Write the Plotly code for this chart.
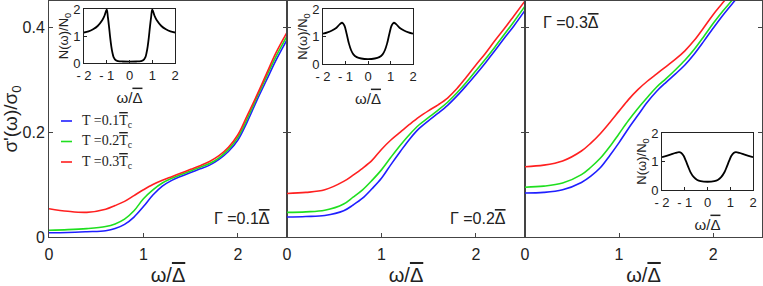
import plotly.graph_objects as go

# ---------------- data ----------------
# main panels: sigma'(omega)/sigma_0 vs omega/Delta
w = [0, 0.2, 0.4, 0.6, 0.7, 0.8, 0.9, 1.0, 1.1, 1.2, 1.3, 1.4, 1.5, 1.6, 1.7,
     1.8, 1.9, 2.0, 2.1, 2.2, 2.3, 2.4, 2.52]

# Gamma = 0.1
g1_t01 = [0.008, 0.0085, 0.010, 0.012, 0.016, 0.024, 0.038, 0.058, 0.080, 0.097, 0.108,
          0.116, 0.123, 0.130, 0.137, 0.148, 0.163, 0.185, 0.220, 0.260, 0.298, 0.336, 0.376]
g1_t02 = [0.013, 0.014, 0.016, 0.020, 0.025, 0.034, 0.050, 0.073, 0.090, 0.103, 0.112,
          0.119, 0.126, 0.133, 0.140, 0.151, 0.167, 0.190, 0.226, 0.266, 0.305, 0.343, 0.383]
g1_t03 = [0.054, 0.049, 0.047, 0.053, 0.060, 0.068, 0.079, 0.090, 0.100, 0.108, 0.115,
          0.122, 0.129, 0.136, 0.144, 0.155, 0.171, 0.195, 0.232, 0.270, 0.310, 0.350, 0.390]

# Gamma = 0.2
g2_t01 = [0.038, 0.039, 0.041, 0.050, 0.061, 0.074, 0.092, 0.112, 0.138, 0.163, 0.187,
          0.207, 0.222, 0.236, 0.251, 0.269, 0.289, 0.310, 0.332, 0.355, 0.379, 0.402, 0.432]
g2_t02 = [0.047, 0.048, 0.051, 0.063, 0.076, 0.090, 0.108, 0.128, 0.152, 0.175, 0.196,
          0.214, 0.228, 0.242, 0.257, 0.275, 0.295, 0.317, 0.339, 0.362, 0.386, 0.410, 0.440]
g2_t03 = [0.083, 0.085, 0.090, 0.106, 0.118, 0.131, 0.146, 0.167, 0.185, 0.200, 0.215,
          0.229, 0.241, 0.252, 0.265, 0.283, 0.305, 0.328, 0.350, 0.374, 0.397, 0.421, 0.450]

# Gamma = 0.3
g3_t01 = [0.084, 0.085, 0.090, 0.104, 0.116, 0.132, 0.155, 0.180, 0.207, 0.232, 0.257,
          0.278, 0.295, 0.311, 0.328, 0.349, 0.373, 0.398, 0.422, 0.444, 0.465, 0.485, 0.510]
g3_t02 = [0.095, 0.097, 0.103, 0.119, 0.133, 0.150, 0.172, 0.197, 0.222, 0.245, 0.266,
          0.286, 0.302, 0.319, 0.337, 0.358, 0.382, 0.407, 0.430, 0.451, 0.472, 0.490, 0.515]
g3_t03 = [0.134, 0.137, 0.145, 0.164, 0.179, 0.197, 0.218, 0.240, 0.262, 0.281, 0.297,
          0.311, 0.325, 0.339, 0.355, 0.375, 0.399, 0.424, 0.446, 0.468, 0.490, 0.510, 0.535]

# insets: density of states N(omega)/N0
dos_w1 = [-2.0, -1.8, -1.6, -1.4, -1.2, -1.1, -1.0, -0.95, -0.9, -0.85, -0.8, -0.75, -0.7,
          -0.6, -0.5, -0.3, 0.0, 0.3, 0.5, 0.6, 0.7, 0.75, 0.8, 0.85, 0.9, 0.95, 1.0,
          1.1, 1.2, 1.4, 1.6, 1.8, 2.0]
dos_n1 = [1.13, 1.17, 1.25, 1.37, 1.58, 1.75, 1.98, 1.70, 1.35, 0.95, 0.62, 0.38, 0.22,
          0.10, 0.07, 0.055, 0.05, 0.055, 0.07, 0.10, 0.22, 0.38, 0.62, 0.95, 1.35, 1.70, 1.98,
          1.75, 1.58, 1.37, 1.25, 1.17, 1.13]

dos_w2 = [-2.0, -1.8, -1.6, -1.4, -1.25, -1.15, -1.05, -0.95, -0.85, -0.75, -0.65, -0.5,
          -0.3, 0.0, 0.3, 0.5, 0.65, 0.75, 0.85, 0.95, 1.05, 1.15, 1.25, 1.4, 1.6, 1.8, 2.0]
dos_n2 = [1.10, 1.15, 1.22, 1.32, 1.45, 1.50, 1.40, 1.10, 0.75, 0.50, 0.35, 0.25,
          0.20, 0.18, 0.20, 0.25, 0.35, 0.50, 0.75, 1.10, 1.40, 1.50, 1.45, 1.32, 1.22, 1.15, 1.10]

dos_w3 = [-2.0, -1.8, -1.6, -1.4, -1.25, -1.15, -1.05, -0.95, -0.85, -0.75, -0.6, -0.45,
          -0.3, 0.0, 0.3, 0.45, 0.6, 0.75, 0.85, 0.95, 1.05, 1.15, 1.25, 1.4, 1.6, 1.8, 2.0]
dos_n3 = [1.15, 1.20, 1.25, 1.30, 1.33, 1.30, 1.20, 1.02, 0.82, 0.63, 0.45, 0.35,
          0.31, 0.29, 0.31, 0.35, 0.45, 0.63, 0.82, 1.02, 1.20, 1.30, 1.33, 1.30, 1.25, 1.20, 1.15]

OVL = "<span style='text-decoration:overline'>{}</span>"
series_names = ["T =0.1" + OVL.format("T") + "<sub>c</sub>",
                "T =0.2" + OVL.format("T") + "<sub>c</sub>",
                "T =0.3" + OVL.format("T") + "<sub>c</sub>"]
series_colors = ["#1f1fff", "#1fdf1f", "#ff2020"]
gamma_labels = ["\u0393 =0.1" + OVL.format("\u0394"),
                "\u0393 =0.2" + OVL.format("\u0394"),
                "\u0393 =0.3" + OVL.format("\u0394")]

main_yticks = [0, 0.2, 0.4]
main_yticktext = ["0", "0.2", "0.4"]
main_xticks = [0, 1, 2]
inset_xticks = [-2, -1, 0, 1, 2]
inset_xticktext = ["- 2", "- 1", "0", "1", "2"]
inset_yticks = [0, 1, 2]

# ---------------- figure ----------------
W, H = 763, 286
ML, MR, MT, MB = 49, 1, 1, 49
PW, PH = W - ML - MR, H - MT - MB


def px(x):
    return (x - ML) / PW


def py(y):
    return (H - MB - y) / PH


FONT = "Arial, Liberation Sans, sans-serif"
FRAME = "#444444"
TXT = "#222222"

fig = go.Figure()

panels = [(g1_t01, g1_t02, g1_t03), (g2_t01, g2_t02, g2_t03), (g3_t01, g3_t02, g3_t03)]
for i, curves in enumerate(panels):
    xa = "x" if i == 0 else f"x{i + 1}"
    ya = "y" if i == 0 else f"y{i + 1}"
    for j, ys in enumerate(curves):
        fig.add_trace(go.Scatter(x=w, y=ys, mode="lines", xaxis=xa, yaxis=ya,
                                 line=dict(color=series_colors[j], width=1.6, shape="spline"),
                                 showlegend=False, hoverinfo="skip"))

insets = [(dos_w1, dos_n1), (dos_w2, dos_n2), (dos_w3, dos_n3)]
for i, (xw, yn) in enumerate(insets):
    fig.add_trace(go.Scatter(x=xw, y=yn, mode="lines", xaxis=f"x{i + 4}", yaxis=f"y{i + 4}",
                             line=dict(color="black", width=1.8, shape="spline"),
                             showlegend=False, hoverinfo="skip"))

# main axes
bounds = [49, 287, 525, 762]
xtitle = "\u03c9/" + OVL.format("\u0394")
layout = {}
for i in range(3):
    dom = [px(bounds[i]), px(bounds[i + 1])]
    key = "xaxis" if i == 0 else f"xaxis{i + 1}"
    ykey = "yaxis" if i == 0 else f"yaxis{i + 1}"
    ya = "y" if i == 0 else f"y{i + 1}"
    xa = "x" if i == 0 else f"x{i + 1}"
    layout[key] = dict(domain=dom, range=[0, 2.52], anchor=ya, tickvals=main_xticks,
                       ticks="inside", ticklen=4, tickcolor=FRAME, showline=True, linecolor=FRAME,
                       linewidth=1, mirror=True, showgrid=False, zeroline=False,
                       automargin=False, ticklabelstandoff=3,
                       tickfont=dict(size=16, color=TXT),
                       title=dict(text=xtitle, font=dict(size=20, color=TXT), standoff=8))
    layout[ykey] = dict(domain=[0, 1], range=[0, 0.45], anchor=xa, tickvals=main_yticks,
                        ticktext=main_yticktext, ticks="inside", ticklen=4, tickcolor=FRAME,
                        showline=True, linecolor=FRAME, linewidth=1, mirror="ticks",
                        showgrid=False, zeroline=False, showticklabels=(i == 0),
                        automargin=False,
                        tickfont=dict(size=16, color=TXT))
layout["yaxis"]["title"] = dict(text="\u03c3'(\u03c9)/\u03c3<sub>0</sub>",
                                font=dict(size=19, color=TXT), standoff=4)

inset_boxes = [(84, 175, 9, 63), (323, 413, 9, 64), (662, 753, 133, 190)]
for i, (x0, x1, y0, y1) in enumerate(inset_boxes):
    k = i + 4
    layout[f"xaxis{k}"] = dict(domain=[px(x0), px(x1)], range=[-2, 2], anchor=f"y{k}",
                               tickvals=inset_xticks, ticktext=inset_xticktext, ticks="inside",
                               ticklen=3, tickcolor=TXT, showline=True, linecolor=TXT,
                               linewidth=1, mirror=True, showgrid=False, zeroline=False,
                               automargin=False, ticklabelstandoff=0,
                               tickfont=dict(size=13, color=TXT),
                               title=dict(text=xtitle, font=dict(size=15, color=TXT), standoff=10))
    layout[f"yaxis{k}"] = dict(domain=[py(y1), py(y0)], range=[0, 2], anchor=f"x{k}",
                               tickvals=inset_yticks, ticks="inside", ticklen=3, tickcolor=TXT,
                               showline=True, linecolor=TXT, linewidth=1, mirror=True,
                               showgrid=False, zeroline=False, automargin=False,
                               tickfont=dict(size=13, color=TXT),
                               title=dict(text="N(\u03c9)/N<sub>0</sub>",
                                          font=dict(size=13, color=TXT), standoff=1))

# legend (drawn manually: short line samples + serif labels)
shapes = []
annotations = []
leg_y = [121, 141.5, 162]
for j in range(3):
    shapes.append(dict(type="line", xref="paper", yref="paper", x0=px(61), x1=px(72),
                       y0=py(leg_y[j]), y1=py(leg_y[j]),
                       line=dict(color=series_colors[j], width=1.6)))
    annotations.append(dict(xref="paper", yref="paper", x=px(80), y=py(leg_y[j]),
                            xanchor="left", yanchor="middle", showarrow=False,
                            text=series_names[j],
                            font=dict(family="Liberation Serif, Times New Roman, serif",
                                      size=14, color=TXT)))

gam_pos = [(272, 218, "right"), (508, 218, "right"), (541, 23, "left")]
for i, (gx, gy, anc) in enumerate(gam_pos):
    annotations.append(dict(xref="paper", yref="paper", x=px(gx), y=py(gy), xanchor=anc,
                            yanchor="middle", showarrow=False, text=gamma_labels[i],
                            font=dict(size=16, color=TXT)))

fig.update_layout(width=W, height=H, margin=dict(l=ML, r=MR, t=MT, b=MB, autoexpand=False),
                  paper_bgcolor="white", plot_bgcolor="white",
                  font=dict(family=FONT, color=TXT), shapes=shapes,
                  annotations=annotations, showlegend=False, **layout)

fig.write_html("out.html", config={"displayModeBar": False, "staticPlot": True},
               post_script="document.body.style.margin='0';document.body.style.overflow='hidden';")
